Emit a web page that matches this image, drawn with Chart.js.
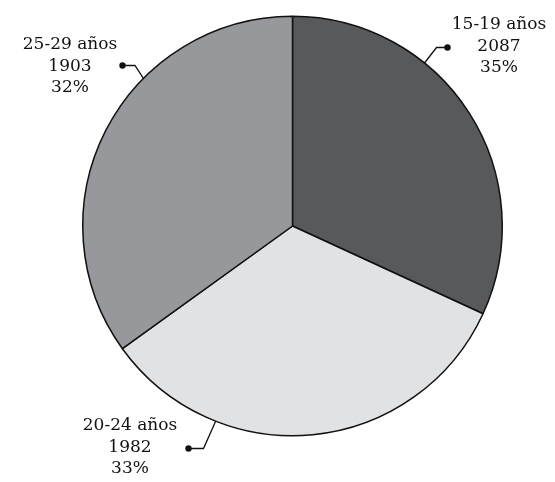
<!DOCTYPE html>
<html>
<head>
<meta charset="utf-8">
<script src="https://cdn.jsdelivr.net/npm/chart.js@4"></script>
<style>
  html, body { margin: 0; padding: 0; background: #fff; }
  #wrap { width: 555px; height: 482px; position: relative; }
</style>
</head>
<body>
<div id="wrap"><canvas id="pieChart"></canvas></div>
<script>
// labels as printed on the chart
const categories = ['15-19 años', '20-24 años', '25-29 años'];
const counts = [2087, 1982, 1903];
const percents = ['35%', '33%', '32%'];
// wedge sizes as drawn in the source picture (clockwise from 12 o'clock)
const wedgeValues = [1903, 1982, 2087];
const colors = ['#58595b', '#e1e2e4', '#97989b'];

// callout layout: angle on the rim (deg, clockwise from top), elbow, dot, text centre
const callouts = [
  { angle: 39, elbow: [436.5, 47.5], dot: [447.5, 47.5], text: [499, 25] },
  { angle: 201.5, elbow: [203.5, 448.5], dot: [188.5, 448.5], text: [130, 426] },
  { angle: 314.7, elbow: [135, 65.5], dot: [122.5, 65.5], text: [70, 45] },
];

const calloutPlugin = {
  id: 'callouts',
  afterDraw(chart) {
    const ctx = chart.ctx;
    const arc = chart.getDatasetMeta(0).data[0];
    const cx = arc.x, cy = arc.y, r = arc.outerRadius;
    ctx.save();
    ctx.strokeStyle = '#111';
    ctx.fillStyle = '#111';
    ctx.lineWidth = 1.3;
    callouts.forEach((c, i) => {
      const a = c.angle * Math.PI / 180;
      const ex = cx + r * Math.sin(a), ey = cy - r * Math.cos(a);
      ctx.beginPath();
      ctx.moveTo(ex, ey);
      ctx.lineTo(c.elbow[0], c.elbow[1]);
      ctx.lineTo(c.dot[0], c.dot[1]);
      ctx.stroke();
      ctx.beginPath();
      ctx.arc(c.dot[0], c.dot[1], 3.2, 0, Math.PI * 2);
      ctx.fill();

      ctx.font = '17px "DejaVu Serif"';
      ctx.textAlign = 'center';
      ctx.textBaseline = 'middle';
      const lines = [categories[i], String(counts[i]), percents[i]];
      lines.forEach((t, j) => ctx.fillText(t, c.text[0], c.text[1] + j * 21.5));
    });
    ctx.restore();
  }
};

new Chart(document.getElementById('pieChart'), {
  type: 'pie',
  data: {
    labels: categories,
    datasets: [{
      data: wedgeValues,
      backgroundColor: colors,
      borderColor: '#111',
      borderWidth: 1.5,
    }],
  },
  options: {
    responsive: true,
    maintainAspectRatio: false,
    animation: false,
    layout: { padding: { left: 82, right: 52, top: 15, bottom: 45 } },
    plugins: {
      legend: { display: false },
      tooltip: { enabled: false },
    },
  },
  plugins: [calloutPlugin],
});
</script>
</body>
</html>
